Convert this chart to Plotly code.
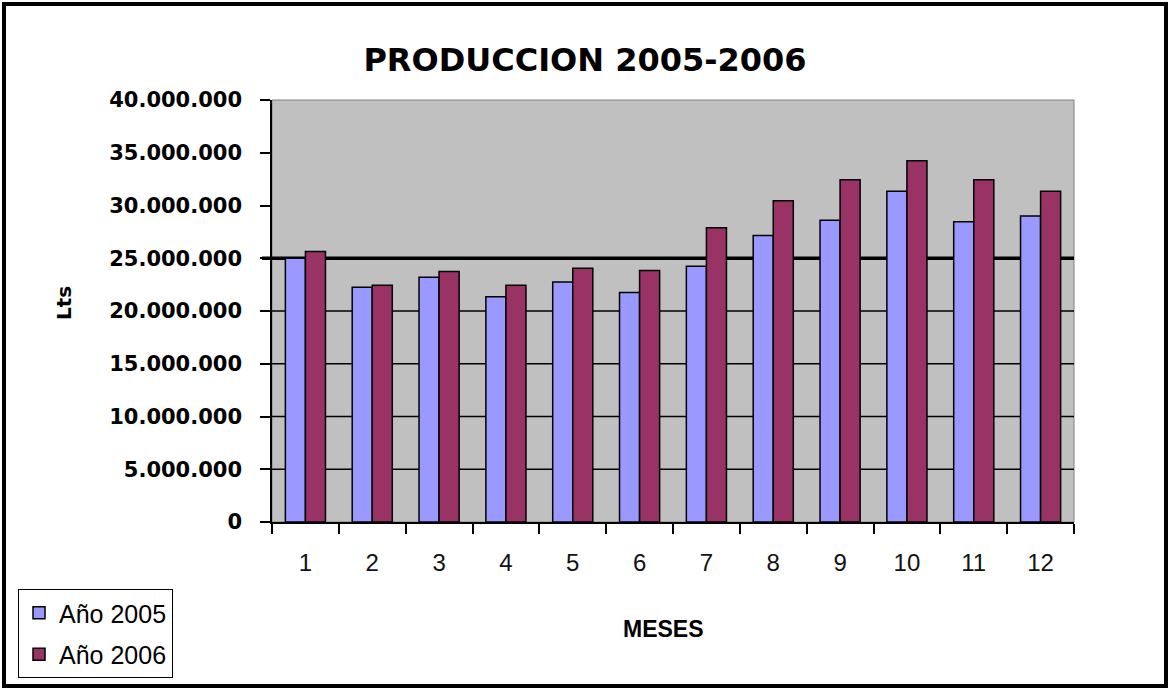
import plotly.graph_objects as go

# ---- data ----
meses = ["1", "2", "3", "4", "5", "6", "7", "8", "9", "10", "11", "12"]
anio_2005 = [25000000, 22250000, 23200000, 21350000, 22750000, 21750000,
             24250000, 27150000, 28600000, 31350000, 28450000, 29000000]
anio_2006 = [25650000, 22450000, 23750000, 22450000, 24050000, 23850000,
             27900000, 30450000, 32450000, 34250000, 32450000, 31350000]
series_names = ["Año 2005", "Año 2006"]
grid_values = [5000000, 10000000, 15000000, 20000000]
ref_value = 25000000
y_ticks = [0, 5000000, 10000000, 15000000, 20000000, 25000000, 30000000, 35000000, 40000000]

W, H = 1169, 689
L, R, T, B = 272, 1074, 100, 522  # plot area in px
pw, ph = R - L, B - T


def px_x(x):
    return (x - L) / pw


def px_y(y):
    return (B - y) / ph


fig = go.Figure()
fig.add_trace(go.Bar(x=meses, y=anio_2005, name=series_names[0], legendgroup="a",
                     marker=dict(color="#9999FF", line=dict(color="black", width=1.5))))
fig.add_trace(go.Bar(x=meses, y=anio_2006, name=series_names[1], legendgroup="b",
                     marker=dict(color="#993366", line=dict(color="black", width=1.5))))

shapes = []
# plot area frame (grey)
shapes.append(dict(type="rect", xref="paper", yref="paper", x0=0, x1=1, y0=0, y1=1,
                   line=dict(color="#808080", width=1), layer="below"))
for g in grid_values:
    shapes.append(dict(type="line", xref="paper", yref="y", x0=0, x1=1, y0=g, y1=g,
                       line=dict(color="black", width=1.5), layer="below"))
shapes.append(dict(type="line", xref="paper", yref="y", x0=px_x(L - 10), x1=1,
                   y0=ref_value, y1=ref_value, line=dict(color="black", width=3.5), layer="below"))
# outer chart border
shapes.append(dict(type="rect", xref="paper", yref="paper",
                   x0=px_x(4), x1=px_x(1166), y0=px_y(686), y1=px_y(4),
                   line=dict(color="black", width=4)))

fig.update_layout(
    width=W, height=H,
    margin=dict(l=L, r=W - R, t=T, b=H - B, autoexpand=False),
    paper_bgcolor="white", plot_bgcolor="#C0C0C0",
    separators=",.",
    barmode="group", bargap=0.4, bargroupgap=0,
    title=dict(text="PRODUCCION 2005-2006", x=px_x(585), xref="paper", xanchor="center",
               y=1 - 60 / H, yref="container", yanchor="middle",
               font=dict(family="DejaVu Sans", size=32, weight="bold", color="black")),
    xaxis=dict(type="category", tickson="boundaries", ticks="outside", ticklen=10,
               tickwidth=1.5, tickcolor="black", showline=True, linecolor="black", linewidth=1.5,
               showgrid=False, ticklabelstandoff=18,
               tickfont=dict(family="Liberation Sans", size=24, color="#111")),
    yaxis=dict(range=[0, 40000000], tickvals=y_ticks, tickformat=",d", ticks="outside",
               ticklen=10, tickwidth=1.5, tickcolor="black", showline=True, linecolor="black",
               linewidth=1.5, showgrid=False, zeroline=False, ticklabelstandoff=14,
               tickfont=dict(family="DejaVu Sans", size=21, weight="bold", color="black")),
    legend=dict(x=px_x(18), y=px_y(589), xanchor="left", yanchor="top",
                bordercolor="black", borderwidth=1, bgcolor="white",
                traceorder="grouped", tracegroupgap=6,
                font=dict(family="Liberation Sans", size=25, color="black")),
    shapes=shapes,
    annotations=[
        dict(text="Lts", xref="paper", yref="paper", x=px_x(64), y=px_y(303), textangle=-90,
             showarrow=False, xanchor="center", yanchor="middle",
             font=dict(family="DejaVu Sans", size=20, weight="bold", color="black")),
        dict(text="MESES", xref="paper", yref="paper", x=px_x(663), y=px_y(629),
             showarrow=False, xanchor="center", yanchor="middle",
             font=dict(family="Liberation Sans", size=23, weight="bold", color="black")),
    ],
)

fig.write_html("out.html")
